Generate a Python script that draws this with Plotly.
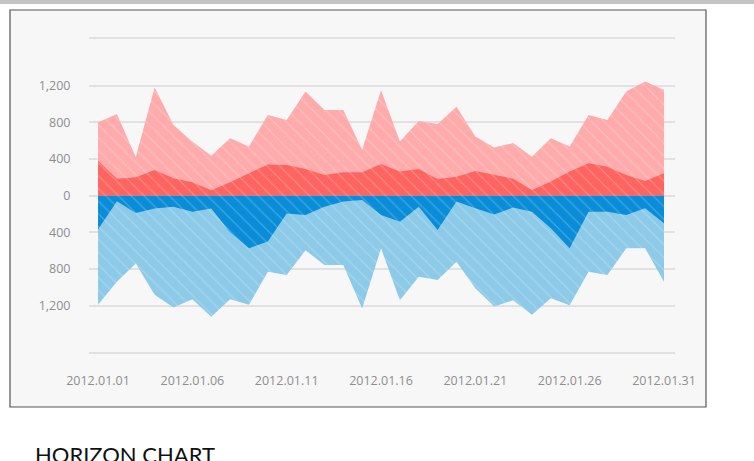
import plotly.graph_objects as go

days = [f"2012-01-{d:02d}" for d in range(1, 32)]
pos_total = [800, 890, 420, 1180, 770, 590, 435, 625, 535, 880, 825, 1135, 935, 935, 500,
             1150, 590, 815, 780, 970, 645, 525, 575, 425, 625, 535, 880, 825, 1135, 1245, 1155]
pos_dark = [380, 185, 200, 280, 190, 145, 60, 145, 245, 340, 335, 290, 225, 255, 255,
            345, 262, 290, 182, 207, 270, 225, 185, 62, 153, 262, 353, 316, 225, 160, 244]
neg_dark = [370, 60, 190, 140, 120, 175, 140, 400, 575, 500, 195, 210, 120, 65, 47,
            210, 284, 120, 375, 65, 138, 205, 130, 175, 356, 575, 175, 175, 210, 138, 300]
neg_total = [1190, 940, 740, 1080, 1220, 1130, 1320, 1130, 1190, 830, 865, 595, 755, 755, 1230,
             575, 1140, 885, 920, 720, 1010, 1210, 1140, 1300, 1120, 1195, 830, 865, 575, 575, 940]

tick_vals = [1200, 800, 400, 0, -400, -800, -1200]
tick_text = ["1,200", "800", "400", "0", "400", "800", "1,200"]
x_ticks = ["2012-01-01", "2012-01-06", "2012-01-11", "2012-01-16", "2012-01-21", "2012-01-26", "2012-01-31"]
x_text = ["2012.01.01", "2012.01.06", "2012.01.11", "2012.01.16", "2012.01.21", "2012.01.26", "2012.01.31"]

LIGHT_RED = "#FFABAB"
DARK_RED = "#FF6560"
DARK_BLUE = "#0A8DD8"
LIGHT_BLUE = "#8CCAE8"


def area(y, color):
    return go.Scatter(
        x=days, y=y, mode="lines", line=dict(width=0, color=color),
        fill="tozeroy", fillcolor=color,
        fillpattern=dict(shape="\\", bgcolor=color, fgcolor="rgba(255,255,255,0.26)",
                         size=9, solidity=0.12, fillmode="replace"),
        hoverinfo="skip", showlegend=False,
    )


fig = go.Figure()
fig.add_trace(area(pos_total, LIGHT_RED))
fig.add_trace(area([-v for v in neg_total], LIGHT_BLUE))
fig.add_trace(area(pos_dark, DARK_RED))
fig.add_trace(area([-v for v in neg_dark], DARK_BLUE))

W, H = 754, 461
L, R, T, B = 89, 675, 39, 352
pw = R - L
ph = B - T


def px(xp):
    return (xp - L) / pw


def py(yp):
    return (B - yp) / ph


fig.update_layout(
    width=W, height=H,
    margin=dict(l=L, r=W - R, t=T, b=H - B),
    paper_bgcolor="white",
    plot_bgcolor="#F7F7F7",
    font=dict(family="Open Sans", color="#8A8A8A", size=12.5),
    xaxis=dict(
        type="date",
        range=["2011-12-31 12:30", "2012-01-31 14:00"],
        tickvals=x_ticks, ticktext=x_text,
        showgrid=False, zeroline=False,
        showline=True, mirror=True, linecolor="#E1E1E1", linewidth=1.5,
        ticks="outside", ticklen=16, tickcolor="rgba(0,0,0,0)",
        tickfont=dict(size=12.5, color="#8E8E8E"),
    ),
    yaxis=dict(
        range=[-1705, 1708],
        tickvals=tick_vals, ticktext=tick_text,
        showgrid=True, gridcolor="#E1E1E1", gridwidth=1.5,
        zeroline=False, showline=False,
        ticks="outside", ticklen=15, tickcolor="rgba(0,0,0,0)",
        tickfont=dict(size=12.5, color="#8E8E8E"),
    ),
    shapes=[
        dict(type="rect", xref="paper", yref="paper", layer="below",
             x0=px(10), x1=px(706), y0=py(407), y1=py(10),
             fillcolor="#F7F7F7", line=dict(color="#555555", width=1.2)),
        dict(type="rect", xref="paper", yref="paper", layer="below",
             x0=px(0), x1=px(754), y0=py(4), y1=py(0),
             fillcolor="#C4C4C4", line=dict(width=0)),
    ],
    annotations=[
        dict(text="HORIZON CHART", xref="paper", yref="paper",
             x=px(33), y=py(439), xanchor="left", yanchor="top", showarrow=False,
             font=dict(family="Lato", size=22, color="#111111")),
    ],
)

fig.write_html(
    "out.html",
    config={"displayModeBar": False},
    post_script="document.body.style.margin='0';document.body.style.overflow='hidden';",
)
